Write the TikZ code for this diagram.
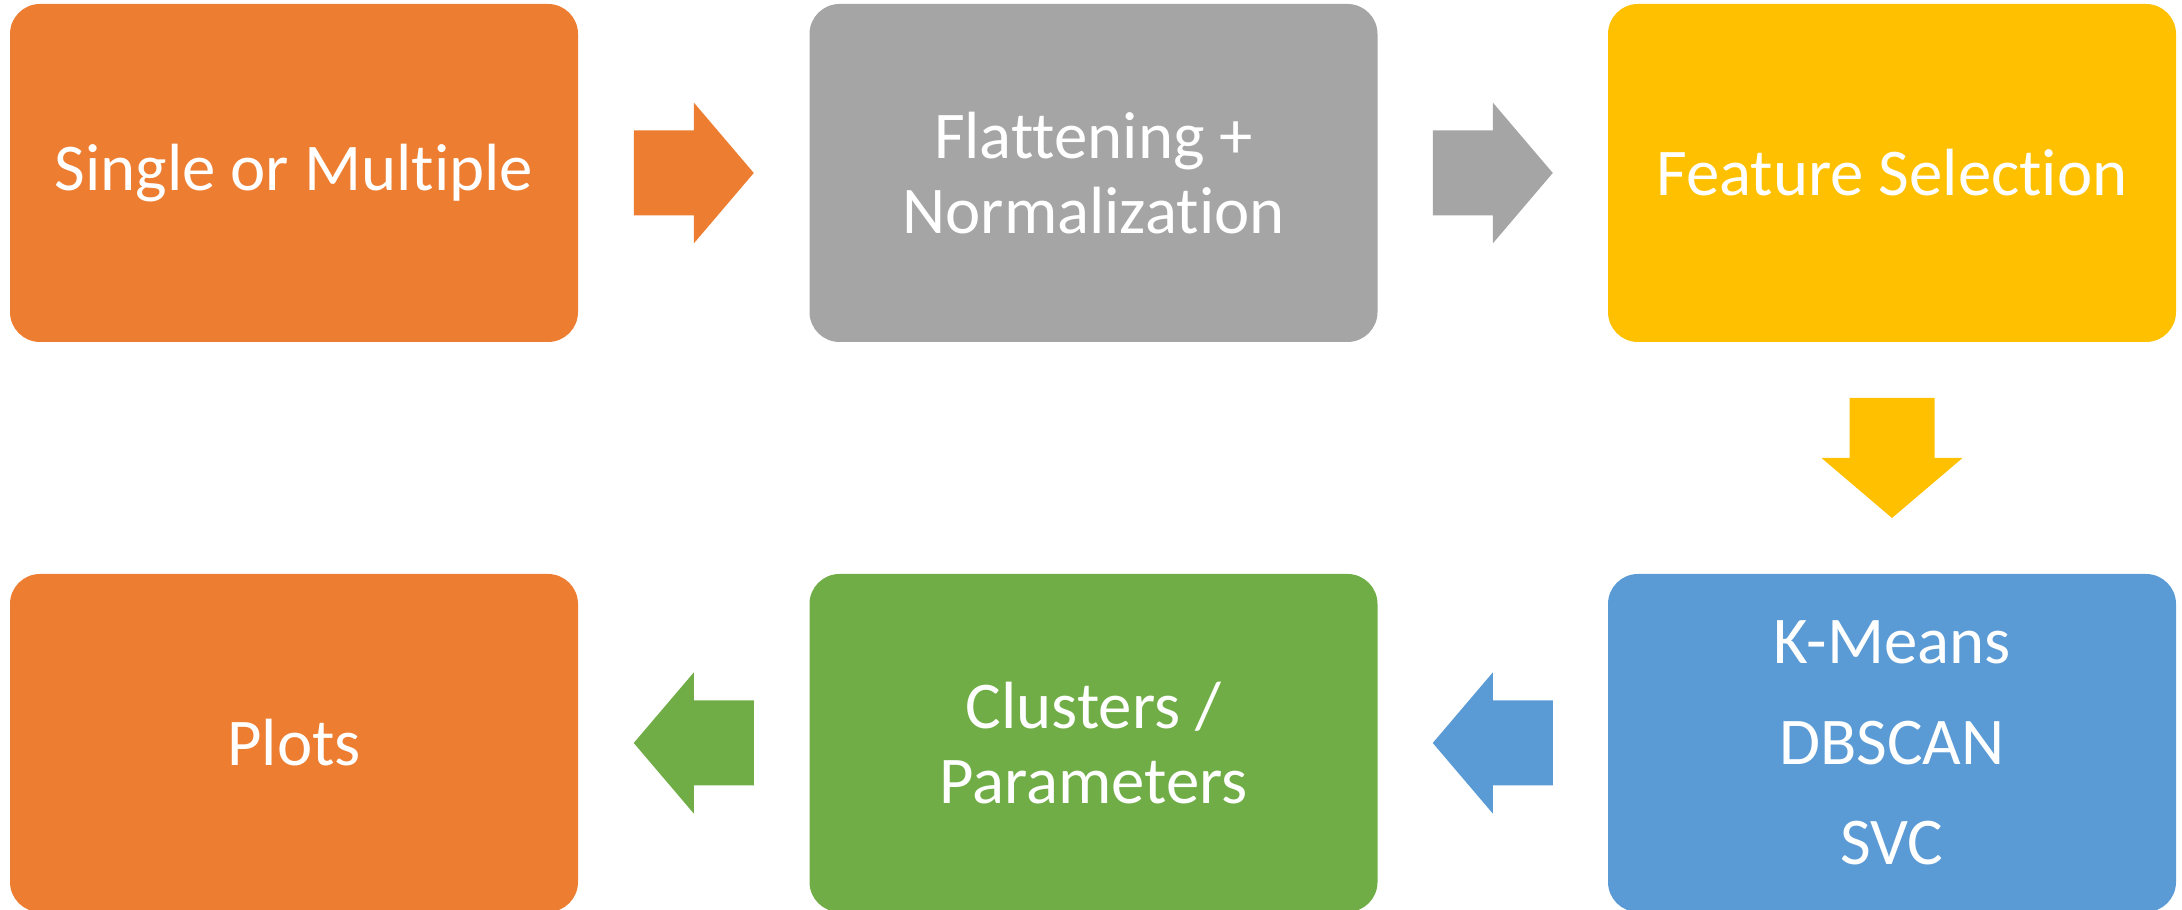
\documentclass[tikz,border=0pt]{standalone}
\usepackage{fontspec}
\setmainfont{Carlito}[RawFeature={-liga;-clig;-dlig;-calt;-hlig}]
\usetikzlibrary{calc}

\definecolor{stageorange}{HTML}{ED7D31}
\definecolor{stagegray}{HTML}{A5A5A5}
\definecolor{stageyellow}{HTML}{FFC000}
\definecolor{stageblue}{HTML}{5B9BD5}
\definecolor{stagegreen}{HTML}{70AD47}

\tikzstyle{stage}=[shape=rectangle,rounded corners=0.3cm,minimum width=5.68cm,minimum height=3.38cm,inner sep=0pt,text=white,align=center,font=\fontsize{19}{21.5}\selectfont]

% block arrow: #1 centre, #2 direction, #3 colour
\newcommand{\blockarrow}[3]{%
  \fill[#3,shift={(#1)},rotate=#2] (-0.6,0.425) -- (0,0.425) -- (0,0.705) -- (0.6,0)
    -- (0,-0.705) -- (0,-0.425) -- (-0.6,-0.425) -- cycle;}

\begin{document}
\begin{tikzpicture}
        \useasboundingbox (0,0) rectangle (21.82,9.10);
        % stages
        \node[stage,fill=stageorange] (s0) at (2.94,7.37) {Single or Multiple};
        \node[stage,fill=stagegray] (s1) at (10.935,7.37) {Flattening +\\Normalization};
        \node[stage,fill=stageyellow] (s2) at (18.92,7.37) {Feature Selection};
        \node[stage,fill=stageblue] (s3) at (18.92,1.67) {K-Means\\[0.25cm]DBSCAN\\[0.25cm]SVC};
        \node[stage,fill=stagegreen] (s4) at (10.935,1.67) {Clusters /\\Parameters};
        \node[stage,fill=stageorange] (s5) at (2.94,1.67) {Plots};

        % arrows between stages
        \coordinate (c01) at ($(s0.east)!0.5!(s1.west)$);
        \coordinate (c12) at ($(s1.east)!0.5!(s2.west)$);
        \coordinate (c23) at ($(s2.south)!0.5!(s3.north)$);
        \coordinate (c34) at ($(s3.west)!0.5!(s4.east)$);
        \coordinate (c45) at ($(s4.west)!0.5!(s5.east)$);
        \blockarrow{c01}{0}{stageorange}
        \blockarrow{c12}{0}{stagegray}
        \blockarrow{c23}{-90}{stageyellow}
        \blockarrow{c34}{180}{stageblue}
        \blockarrow{c45}{180}{stagegreen}
    \end{tikzpicture}
\end{document}
